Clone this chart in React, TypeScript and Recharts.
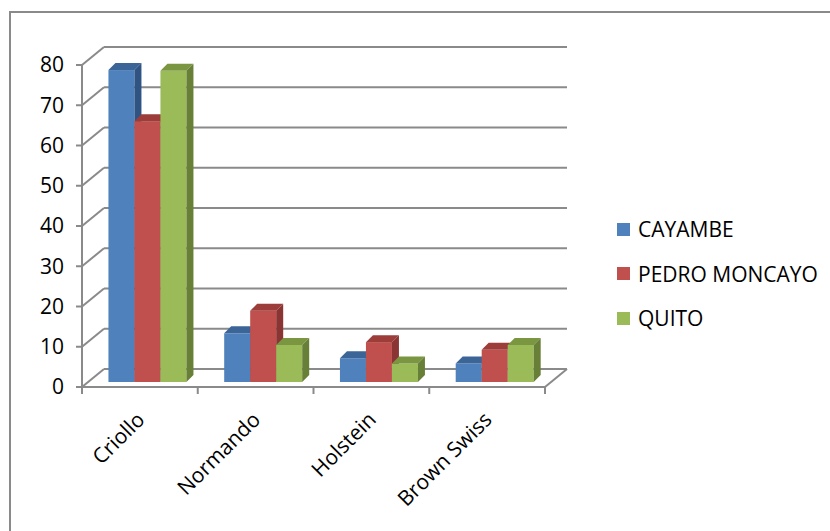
import React from "react";
import { BarChart, Bar, XAxis, YAxis, CartesianGrid, Legend } from "recharts";

const categories = ["Criollo", "Normando", "Holstein", "Brown Swiss"];
const cayambe = [77.5, 12.1, 5.9, 4.6];
const pedroMoncayo = [64.8, 17.7, 9.9, 8.0];
const quito = [77.3, 9.2, 4.6, 9.2];
const yTicks = [0, 10, 20, 30, 40, 50, 60, 70, 80];

const seriesInfo = [
  { key: "cayambe", name: "CAYAMBE", front: "#4F81BD", top: "#3C6597", side: "#2F5483" },
  { key: "pedro", name: "PEDRO MONCAYO", front: "#C0504D", top: "#9C3D3A", side: "#8A3533" },
  { key: "quito", name: "QUITO", front: "#9BBB59", top: "#7A9640", side: "#687F37" },
];

const data = categories.map((c, i) => ({
  name: c,
  cayambe: cayambe[i],
  pedro: pedroMoncayo[i],
  quito: quito[i],
}));

const FONT = "'Open Sans', 'DejaVu Sans', sans-serif";
const GRID = "#8A8A8A";
// depth of back wall
const WDX = 22;
const WDY = -18;
// bar plane offset & bar depth
const OX = 7;
const OY = -5;
const BDX = 7;
const BDY = 7;

const makeShape = (s: typeof seriesInfo[number]) => (props: any) => {
  const { x, y, width, height } = props;
  if (x == null || y == null || !width || height == null) return <g />;
  const fx = x + OX;
  const fy = y + OY;
  const h = height;
  return (
    <g>
      <rect x={fx} y={fy} width={width} height={h} fill={s.front} />
      <polygon
        points={`${fx},${fy} ${fx + BDX},${fy - BDY} ${fx + width + BDX},${fy - BDY} ${fx + width},${fy}`}
        fill={s.top}
      />
      <polygon
        points={`${fx + width},${fy} ${fx + width + BDX},${fy - BDY} ${fx + width + BDX},${fy + h - BDY} ${fx + width},${fy + h}`}
        fill={s.side}
      />
    </g>
  );
};

const gridLine = (props: any) => {
  const { x1, y1, x2, y2, y, height, index } = props;
  const isBottom = Math.abs(y1 - (y + height)) < 1;
  return (
    <g key={`g-${index}-${y1}`}>
      <line x1={x1} y1={y1} x2={x1 + WDX} y2={y1 + WDY} stroke={GRID} strokeWidth={2} />
      <line x1={x1 + WDX} y1={y1 + WDY} x2={x2 + WDX} y2={y2 + WDY} stroke={GRID} strokeWidth={2} />
      {isBottom ? (
        <line x1={x2} y1={y2} x2={x2 + WDX} y2={y2 + WDY} stroke={GRID} strokeWidth={2} />
      ) : null}
    </g>
  );
};

const CatTick = (props: any) => {
  const { x, y, payload, index, visibleTicksCount } = props;
  const half = payload && typeof payload.offset === "number" ? payload.offset : 0;
  const axisY = y - 1;
  const ax = x + 6;
  const ay = y + 34;
  const last = visibleTicksCount != null ? index === visibleTicksCount - 1 : index === categories.length - 1;
  return (
    <g>
      {half > 0 ? (
        <line x1={x - half} y1={axisY} x2={x - half} y2={axisY + 8} stroke={GRID} strokeWidth={2} />
      ) : null}
      {half > 0 && last ? (
        <line x1={x + half} y1={axisY} x2={x + half} y2={axisY + 8} stroke={GRID} strokeWidth={2} />
      ) : null}
      <text
        x={ax}
        y={ay}
        transform={`rotate(-45 ${ax} ${ay})`}
        textAnchor="end"
        fontFamily={FONT}
        fontSize={21}
        fill="#000"
      >
        {payload.value}
      </text>
    </g>
  );
};

const LegendContent = () => (
  <div style={{ fontFamily: FONT, fontSize: 21, color: "#000" }}>
    {seriesInfo.map((s) => (
      <div key={s.key} style={{ display: "flex", alignItems: "center", height: 44.5 }}>
        <span
          style={{ display: "inline-block", width: 13, height: 13, background: s.front, marginRight: 8 }}
        />
        <span style={{ lineHeight: "22px" }}>{s.name}</span>
      </div>
    ))}
  </div>
);

export default function App() {
  return (
    <div
      style={{
        position: "absolute",
        left: 0,
        top: 0,
        width: 830,
        height: 531,
        background: "#fff",
        overflow: "hidden",
      }}
    >
      <div
        style={{
          position: "absolute",
          left: 9,
          top: 11,
          width: 830,
          height: 531,
          borderTop: `2px solid ${GRID}`,
          borderLeft: `2px solid ${GRID}`,
        }}
      />
      <div style={{ position: "absolute", left: 0, top: 0 }}>
        <BarChart
          width={830}
          height={531}
          data={data}
          margin={{ top: 65, right: 285, bottom: 143, left: 81 }}
          barCategoryGap="16.8%"
          barGap={0}
        >
          <CartesianGrid vertical={false} horizontal={gridLine} />
          <XAxis
            xAxisId="cat"
            dataKey="name"
            height={1}
            tickLine={false}
            tickSize={0}
            tickMargin={0}
            axisLine={{ stroke: GRID, strokeWidth: 2 }}
            tick={<CatTick />}
            interval={0}
          />
          <YAxis
            width={1}
            domain={[0, 80]}
            ticks={yTicks}
            interval={0}
            tickSize={6}
            tickMargin={12}
            axisLine={{ stroke: GRID, strokeWidth: 2 }}
            tickLine={{ stroke: GRID, strokeWidth: 2 }}
            tick={{ fontFamily: FONT, fontSize: 21, fill: "#000" }}
          />
          <Legend
            layout="vertical"
            align="center"
            verticalAlign="middle"
            wrapperStyle={{ position: "absolute", left: 617, top: 207, width: 212 }}
            content={<LegendContent />}
          />
          {seriesInfo.map((s) => (
            <Bar
              key={s.key}
              xAxisId="cat"
              dataKey={s.key}
              name={s.name}
              fill={s.front}
              isAnimationActive={false}
              shape={makeShape(s)}
            />
          ))}
        </BarChart>
      </div>
    </div>
  );
}
